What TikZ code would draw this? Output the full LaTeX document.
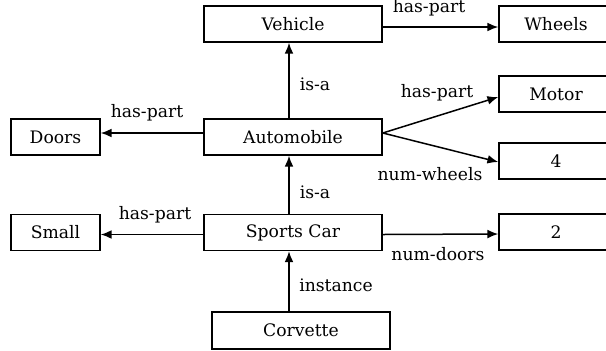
\documentclass[tikz,border=0pt]{standalone}
\usepackage{fontspec}
\setmainfont{DejaVu Serif}
\usetikzlibrary{arrows.meta}
\begin{document}
\begin{tikzpicture}[x=0.5pt,y=-0.5pt,
  box/.style={draw, line width=0.75pt, minimum height=18pt, inner sep=0pt,
    font=\fontsize{8.6}{10}\selectfont},
  rel/.style={line width=0.75pt, -{Latex[length=5.4pt,width=4.4pt]}},
  lbl/.style={inner sep=0pt, font=\fontsize{8.6}{10}\selectfont}]
\useasboundingbox (0,0) rectangle (606,350);

% concept frames
\node[box, minimum width=89pt] (veh)    at (293,24)    {Vehicle};
\node[box, minimum width=57pt] (wheels) at (556,24)    {Wheels};
\node[box, minimum width=57pt] (motor)  at (556,94)    {Motor};
\node[box, minimum width=89pt] (auto)   at (293,137)   {Automobile};
\node[box, minimum width=44.5pt] (doors) at (55.5,137) {Doors};
\node[box, minimum width=57pt] (four)   at (556,161)   {4};
\node[box, minimum width=89pt] (sports) at (293,232.5) {Sports Car};
\node[box, minimum width=44.5pt] (small) at (55.5,232.5) {Small};
\node[box, minimum width=57pt] (two)    at (556,232)   {2};
\node[box, minimum width=89pt, minimum height=18.5pt] (corv) at (301,330.5) {Corvette};

% slots and links
\draw[rel] ([yshift=-1.5pt]veh.east) -- ([yshift=-1.5pt]wheels.west);
\draw[rel] ([xshift=-2pt]auto.north) -- ([xshift=-2pt]veh.south);
\draw[rel] ([yshift=2pt]auto.west) -- ([yshift=2pt]doors.east);
\draw[rel] ([yshift=2pt]auto.east) -- ([yshift=-1.5pt]motor.west);
\draw[rel] ([yshift=2pt]auto.east) -- ([yshift=-0.5pt]four.west);
\draw[rel] ([xshift=-2pt]sports.north) -- ([xshift=-2pt]auto.south);
\draw[rel] ([yshift=-1pt]sports.west) -- ([yshift=-1pt]small.east);
\draw[rel] ([yshift=-1pt]sports.east) -- ([yshift=-1pt]two.west);
\draw[rel] ([xshift=-6pt]corv.north) -- ([xshift=-2pt]sports.south);

% link labels
\node[lbl] (l1) at (429,8)   {has-part};
\node[lbl] (l2) at (315,84)  {is-a};
\node[lbl] (l3) at (437,93)  {has-part};
\node[lbl] (l4) at (147,113) {has-part};
\node[lbl] (l5) at (430,174) {num-wheels};
\node[lbl] (l6) at (315,192) {is-a};
\node[lbl] (l7) at (155,215) {has-part};
\node[lbl] (l8) at (438,254) {num-doors};
\node[lbl] (l9) at (336,285) {instance};
\end{tikzpicture}
\end{document}
